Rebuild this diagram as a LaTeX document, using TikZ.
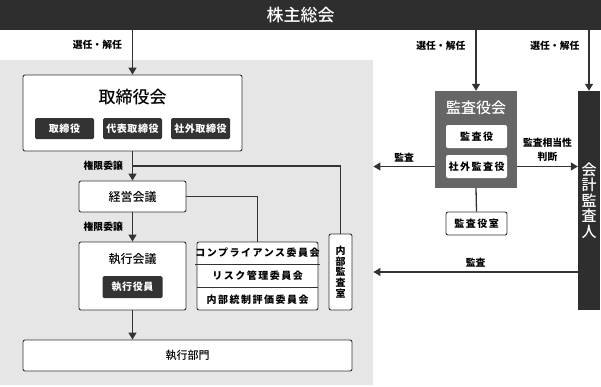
\documentclass[tikz,border=0pt]{standalone}
\usepackage{fontspec}
\setmainfont{Noto Sans CJK JP}
\newfontfamily\widejp[LetterSpace=15]{Noto Sans CJK JP}
\newfontfamily\tightjp[LetterSpace=6]{Noto Sans CJK JP}
\newfontfamily\medjp{Noto Sans CJK JP Medium}
\usepackage{tikz}
\usetikzlibrary{arrows.meta, positioning}

\definecolor{barcol}{HTML}{2E2E2E}
\definecolor{areacol}{HTML}{E6E6E6}
\definecolor{linecol}{HTML}{333333}
\definecolor{auditcol}{HTML}{666666}
\definecolor{darkcol}{HTML}{333333}

\begin{document}
\begin{tikzpicture}[
    x=1pt, y=-1pt,
    box/.style={
        draw=linecol,
        fill=white,
        line width=0.9pt,
        rounded corners=2pt,
        inner sep=0pt,
        align=center
    },
    darkbox/.style={
        fill=darkcol,
        rounded corners=1.5pt,
        text=white,
        inner sep=0pt,
        minimum height=21pt,
        font=\tightjp\bfseries\fontsize{10}{12}\selectfont
    },
    whitebox/.style={
        box,
        draw=none,
        minimum width=61pt,
        minimum height=23pt,
        font=\widejp\bfseries\fontsize{10}{12}\selectfont
    },
    row/.style={
        inner sep=0pt,
        minimum width=121pt,
        font=\widejp\bfseries\fontsize{10}{12}\selectfont
    },
    lbl/.style={
        inner sep=1pt,
        align=center,
        font=\bfseries\fontsize{9.8}{14}\selectfont
    },
    title/.style={
        font=\medjp\fontsize{12}{14}\selectfont
    },
    arrow/.style={
        -{Triangle[width=8pt,length=7pt]},
        line width=1.3pt,
        draw=linecol
    },
    line/.style={
        line width=1.3pt,
        draw=linecol
    }
]

\useasboundingbox (0,0) rectangle (601,386);

\node[fill=areacol, inner sep=0pt, anchor=north west, minimum width=373pt, minimum height=325pt] (area) at (0,60) {};

\node[fill=barcol, text=white, inner sep=0pt, anchor=north west, minimum width=601pt, minimum height=30pt,
      font=\medjp\fontsize{17}{20}\selectfont] (gm) at (0,0) {株主総会};

\node[box, minimum width=219pt, minimum height=76pt] (board) at (132.5,113) {};
\node[title, font=\medjp\fontsize{17}{20}\selectfont] (boardtitle) at (132.5,97) {取締役会};
\node[darkbox, minimum width=59pt] (director) at (64.5,128.5) {取締役};
\node[darkbox, minimum width=59pt] (repdirector) at (132.5,128.5) {代表取締役};
\node[darkbox, minimum width=59pt] (outdirector) at (200.5,128.5) {社外取締役};

\node[box, title, minimum width=107pt, minimum height=31pt] (mgmt) at (132.5,196.5) {経営会議};

\node[box, minimum width=107pt, minimum height=68pt] (exec) at (132.5,276) {};
\node[title] (exectitle) at (132.5,259) {執行会議};
\node[darkbox, minimum width=60pt, minimum height=22pt] (officer) at (132.5,287) {執行役員};

\node[box, minimum width=121pt, minimum height=68pt] (committees) at (257.5,276) {};
\node[row, minimum height=22pt] (comp) at (257.5,253) {コンプライアンス委員会};
\node[row, minimum height=23pt, below=0pt of comp] (risk) {リスク管理委員会};
\node[row, minimum height=23pt, below=0pt of risk] (ictrl) {内部統制評価委員会};
\draw[linecol, line width=0.9pt] (comp.south west) -- (comp.south east);
\draw[linecol, line width=0.9pt] (risk.south west) -- (risk.south east);

\node[box, minimum width=23pt, minimum height=76pt, font=\bfseries\fontsize{10}{10.6}\selectfont] (iaudit) at (340.5,272) {内\\部\\監\\査\\室};

\node[box, title, minimum width=329pt, minimum height=31pt, font=\medjp\fontsize{11}{12}\selectfont] (dept) at (187.5,355.5) {執行部門};

\node[fill=auditcol, inner sep=0pt, minimum width=82pt, minimum height=97pt] (audbd) at (476,139.5) {};
\node[text=white, font=\medjp\fontsize{15}{18}\selectfont] (audbdtitle) at (476,108) {監査役会};
\node[whitebox] (auditor1) at (476.5,136.5) {監査役};
\node[whitebox] (auditor2) at (476.5,166.5) {社外監査役};

\node[box, minimum width=61pt, minimum height=23pt, font=\widejp\bfseries\fontsize{10}{12}\selectfont] (audoffice) at (476.5,223.5) {監査役室};

\node[fill=barcol, text=white, inner sep=0pt, minimum width=22pt, minimum height=219pt, align=center,
      font=\medjp\fontsize{15}{15.6}\selectfont] (auditor) at (589,200.5) {会\\計\\監\\査\\人};

\draw[arrow] (gm.south -| board.north) -- node[lbl, left=9pt, pos=0.33] {選任・解任} (board.north);
\draw[arrow] (gm.south -| audbd.north) -- node[lbl, left=9pt, pos=0.25] {選任・解任} (audbd.north);
\draw[arrow] (gm.south -| auditor.north) -- node[lbl, left=8pt, pos=0.25] {選任・解任} (auditor.north);

\path (board.south) -- coordinate[pos=0.5] (split) (mgmt.north);
\draw[line] (split) -| (iaudit.north);
\draw[arrow] (board) -- node[lbl, left=8pt] {権限委譲} (mgmt);
\draw[line] (mgmt.east) -| (committees.north);
\draw[arrow] (mgmt) -- node[lbl, left=8pt] {権限委譲} (exec);
\draw[arrow] (exec.south) -- (exec.south |- dept.north);

\draw[arrow] (auditor2 -| audbd.west) -- node[lbl, above=3pt] {監査} (auditor2 -| area.east);
\draw[arrow] (auditor2 -| audbd.east) -- node[lbl, above=3pt] {監査相当性\\判断} (auditor2 -| auditor.west);
\draw[line] (audbd.south) -- (audoffice.north);
\draw[arrow] (iaudit -| auditor.west) -- node[lbl, above=3pt] {監査} (iaudit -| area.east);

\end{tikzpicture}
\end{document}
